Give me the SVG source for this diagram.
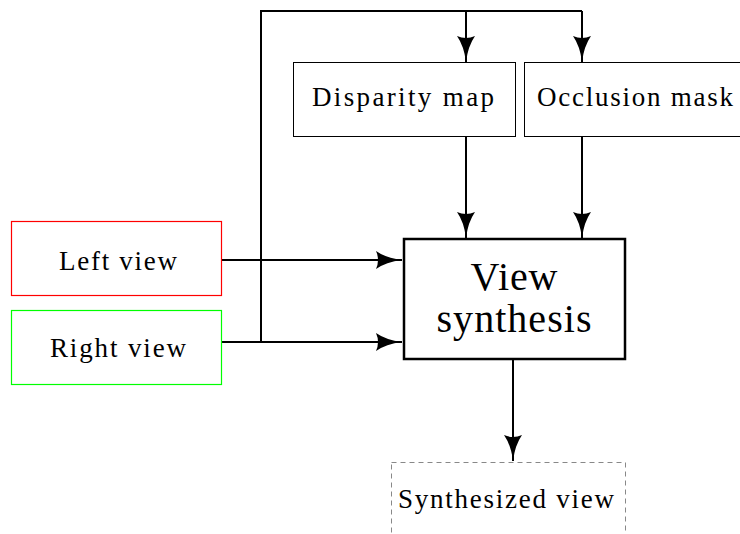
<svg xmlns="http://www.w3.org/2000/svg" width="740" height="534" viewBox="0 0 740 534">
<defs>
<style>
text{font-family:"Liberation Serif","Times New Roman",serif;fill:#000;text-anchor:middle}
.n{font-size:27px}
.b{font-size:40px}
.edge{fill:none;stroke:#000;stroke-width:2}
</style>
<marker id="ah" viewBox="0 0 26 18" refX="26" refY="9" markerWidth="26" markerHeight="18" markerUnits="userSpaceOnUse" orient="auto">
<path d="M0,0 Q10,7 26,9 Q10,11 0,18 Q4,9 0,0 Z" fill="#000"/>
</marker>
</defs>
<rect width="740" height="534" fill="#fff"/>
<g id="connectors">
<path class="edge" d="M261,342 V11 H582"/>
<path class="edge" d="M466,11 V62" marker-end="url(#ah)"/>
<path class="edge" d="M582,11 V62" marker-end="url(#ah)"/>
<path class="edge" d="M466,136 V238" marker-end="url(#ah)"/>
<path class="edge" d="M582,136 V238" marker-end="url(#ah)"/>
<path class="edge" d="M221,260 H402" marker-end="url(#ah)"/>
<path class="edge" d="M221,342 H402" marker-end="url(#ah)"/>
<path class="edge" d="M513,360 V461" marker-end="url(#ah)"/>
</g>
<g id="disparity">
<rect x="293.5" y="62.5" width="222" height="74" fill="#fff" stroke="#000" stroke-width="1"/>
<text class="n" x="403" y="106" textLength="182" lengthAdjust="spacing">Disparity map</text>
</g>
<g id="occlusion">
<rect x="524.5" y="62.5" width="220" height="74" fill="#fff" stroke="#000" stroke-width="1"/>
<text class="n" x="635" y="106" textLength="196" lengthAdjust="spacing">Occlusion mask</text>
</g>
<g id="left">
<rect x="11.5" y="221.5" width="210" height="74" fill="#fff" stroke="red" stroke-width="1.2"/>
<text class="n" x="118" y="270" textLength="118" lengthAdjust="spacing">Left view</text>
</g>
<g id="right">
<rect x="11.5" y="310.5" width="210" height="74" fill="#fff" stroke="lime" stroke-width="1.2"/>
<text class="n" x="118" y="357" textLength="136" lengthAdjust="spacing">Right view</text>
</g>
<g id="synthesis">
<rect x="404" y="239" width="221" height="120" fill="#fff" stroke="#000" stroke-width="2.5"/>
<text class="b" x="514" y="290" textLength="87" lengthAdjust="spacing">View</text>
<text class="b" x="514" y="332" textLength="155" lengthAdjust="spacing">synthesis</text>
</g>
<g id="synthesized">
<rect x="391.5" y="462.5" width="234" height="80" fill="#fff" stroke="#888" stroke-width="1" stroke-dasharray="5,4"/>
<text class="n" x="506" y="508" textLength="216" lengthAdjust="spacing">Synthesized view</text>
</g>
</svg>
